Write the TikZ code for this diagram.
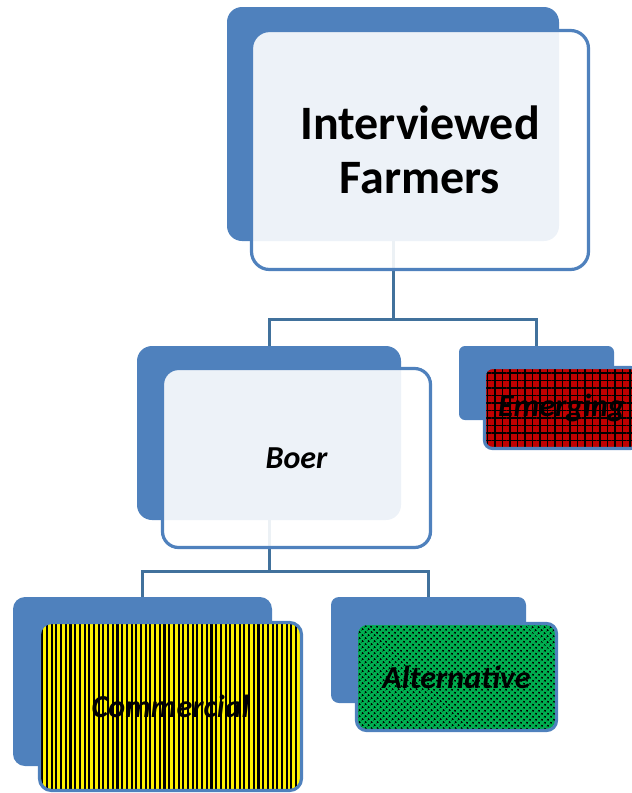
\documentclass[tikz,border=0pt]{standalone}
\usepackage{fontspec}
\setmainfont{Carlito}
\usepackage{xcolor}
\usetikzlibrary{patterns.meta}
\definecolor{boxblue}{HTML}{4F81BD}
\definecolor{linkblue}{HTML}{41719C}
\definecolor{emred}{HTML}{C00000}
\definecolor{altgreen}{HTML}{00B050}
\begin{document}
\begin{tikzpicture}[x=1pt,y=1pt,
    backbox/.style={draw=none,fill=boxblue,rounded corners=#1,inner sep=0pt},
    frontbox/.style={draw=boxblue,line width=3.2pt,fill=white,fill opacity=0.9,text opacity=1,rounded corners=#1,inner sep=0pt},
    link/.style={draw=linkblue,line width=3pt},
    lbl/.style={font=\fontsize{32}{38}\selectfont\bfseries\itshape}]
    \clip (0,0) rectangle (632,-793);
    % back boxes
    \node[backbox=15pt,minimum width=332,minimum height=234] (farmers-bk) at (393,-124) {};
    \node[backbox=15pt,minimum width=264,minimum height=174] (boer-bk) at (269,-433) {};
    \node[backbox=6pt,minimum width=155,minimum height=74] (emerging-bk) at (536.5,-383) {};
    \node[backbox=12pt,minimum width=259,minimum height=169] (commercial-bk) at (142.5,-681.5) {};
    \node[backbox=8pt,minimum width=195,minimum height=106] (alternative-bk) at (428.5,-650) {};
    % links
    \coordinate (j1) at (393,-319);
    \coordinate (j2) at (269,-571);
    \draw[link] (farmers-bk.south) -- (farmers-bk.south |- j1) -| (boer-bk.north);
    \draw[link] (farmers-bk.south |- j1) -| (emerging-bk.north);
    \draw[link] (boer-bk.south) -- (boer-bk.south |- j2) -| (commercial-bk.north);
    \draw[link] (boer-bk.south |- j2) -| (alternative-bk.north);
    % front boxes
    \node[frontbox=18pt,minimum width=337,minimum height=239,align=center,
        font=\fontsize{48}{54}\selectfont\bfseries] (farmers) at (420,-150) {Interviewed\\Farmers};
    \node[frontbox=16pt,minimum width=268,minimum height=179,lbl] (boer) at (296.5,-458) {Boer};
    \node[frontbox=8pt,minimum width=154,minimum height=81,fill opacity=1,
        preaction={fill=emred},pattern={Hatch[angle=0,distance=7.5pt,line width=1.1pt]},pattern color=black,lbl] (emerging) at (561.5,-408) {Emerging};
    \node[frontbox=12pt,minimum width=262,minimum height=168,fill opacity=1,
        preaction={fill=yellow},pattern={Lines[angle=90,distance=4.7pt,line width=2.1pt]},pattern color=black,lbl] (commercial) at (170.5,-706.5) {Commercial};
    \node[frontbox=10pt,minimum width=200,minimum height=107,fill opacity=1,
        preaction={fill=altgreen},pattern={Dots[angle=45,distance=4pt,radius=1.25pt]},pattern color=black,lbl] (alternative) at (456.5,-677) {Alternative};
\end{tikzpicture}
\end{document}
